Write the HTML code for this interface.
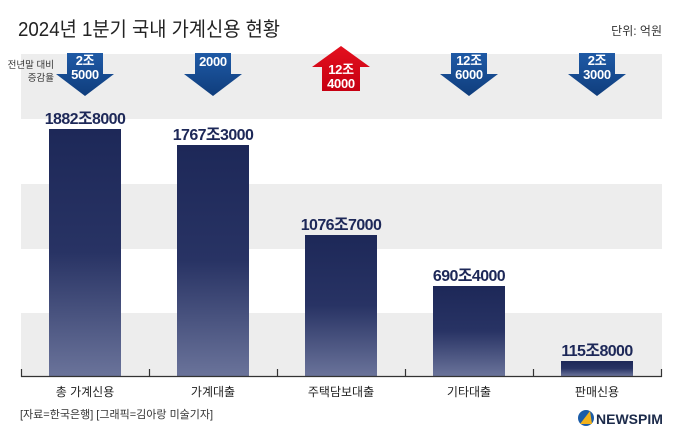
<!DOCTYPE html>
<html><head><meta charset="utf-8"><style>
body{margin:0;width:680px;height:442px;background:#fff;overflow:hidden;font-family:"Liberation Sans","Noto Sans CJK KR",sans-serif;}
</style></head><body>
<svg width="680" height="442" xmlns="http://www.w3.org/2000/svg" style="font-family:'Liberation Sans','Noto Sans CJK KR',sans-serif">
<defs>
<linearGradient id="bar" x1="0" y1="0" x2="0" y2="1"><stop offset="0" stop-color="#1d2858"/><stop offset="0.5" stop-color="#283364"/><stop offset="1" stop-color="#6a739a"/></linearGradient>
<linearGradient id="blu" x1="0" y1="0" x2="0" y2="1"><stop offset="0" stop-color="#1f5aa6"/><stop offset="1" stop-color="#0f3d7c"/></linearGradient>
<linearGradient id="red" x1="0" y1="0" x2="0" y2="1"><stop offset="0" stop-color="#e3101e"/><stop offset="1" stop-color="#c70012"/></linearGradient>
</defs>
<text x="18" y="36" font-size="20" fill="#222" textLength="262" lengthAdjust="spacingAndGlyphs">2024년 1분기 국내 가계신용 현황</text>
<text x="662" y="35" font-size="12" fill="#333" text-anchor="end">단위: 억원</text>
<rect x="21" y="54" width="641" height="65" fill="#ededed"/>
<rect x="21" y="184" width="641" height="65" fill="#ededed"/>
<rect x="21" y="313" width="641" height="64" fill="#ededed"/>
<text x="54" y="68" font-size="9.5" fill="#333" text-anchor="end">전년말 대비</text>
<text x="54" y="81" font-size="9.5" fill="#333" text-anchor="end">증감율</text>
<g fill="url(#bar)">
<rect x="49" y="129" width="72" height="247"/>
<rect x="177" y="145" width="72" height="231"/>
<rect x="305" y="235" width="72" height="141"/>
<rect x="433" y="286" width="72" height="90"/>
<rect x="561" y="361" width="72" height="15"/>
</g>
<g stroke="#333" stroke-width="1.2" fill="none">
<line x1="21" y1="376.5" x2="662" y2="376.5"/>
<line x1="21.5" y1="369" x2="21.5" y2="377"/><line x1="149.5" y1="369" x2="149.5" y2="377"/><line x1="277.5" y1="369" x2="277.5" y2="377"/><line x1="405.5" y1="369" x2="405.5" y2="377"/><line x1="533.5" y1="369" x2="533.5" y2="377"/><line x1="661.5" y1="369" x2="661.5" y2="377"/>
</g>
<g font-size="16" font-weight="bold" fill="#1d2858" text-anchor="middle" letter-spacing="-0.6">
<text x="85" y="124">1882조8000</text>
<text x="213" y="140">1767조3000</text>
<text x="341" y="230">1076조7000</text>
<text x="469" y="281">690조4000</text>
<text x="597" y="356">115조8000</text>
</g>
<g font-size="12" fill="#222" text-anchor="middle">
<text x="85" y="396">총 가계신용</text>
<text x="213" y="396">가계대출</text>
<text x="341" y="396">주택담보대출</text>
<text x="469" y="396">기타대출</text>
<text x="597" y="396">판매신용</text>
</g>
<g fill="url(#blu)">
<path d="M67 53H103V74H114L85 96L56 74H67Z"/>
<path d="M195 53H231V74H242L213 96L184 74H195Z"/>
<path d="M451 53H487V74H498L469 96L440 74H451Z"/>
<path d="M579 53H615V74H626L597 96L568 74H579Z"/>
</g>
<path d="M341 46L370 67H360V91H322V67H312Z" fill="url(#red)"/>
<g font-size="13" font-weight="bold" fill="#fff" text-anchor="middle" letter-spacing="-0.3">
<text x="85" y="65">2조</text><text x="85" y="79">5000</text>
<text x="213" y="66">2000</text>
<text x="341" y="74">12조</text><text x="341" y="88">4000</text>
<text x="469" y="65">12조</text><text x="469" y="79">6000</text>
<text x="597" y="65">2조</text><text x="597" y="79">3000</text>
</g>
<text x="20" y="418" font-size="11" fill="#333">[자료=한국은행] [그래픽=김아랑 미술기자]</text>
<circle cx="586" cy="418" r="8" fill="#1b5ca8"/>
<path d="M580 424L590 411L592 424Z" fill="#f2b21c"/>
<text x="596" y="424" font-size="14" font-weight="bold" fill="#1b2a4a">NEWSPIM</text>
</svg>
</body></html>
